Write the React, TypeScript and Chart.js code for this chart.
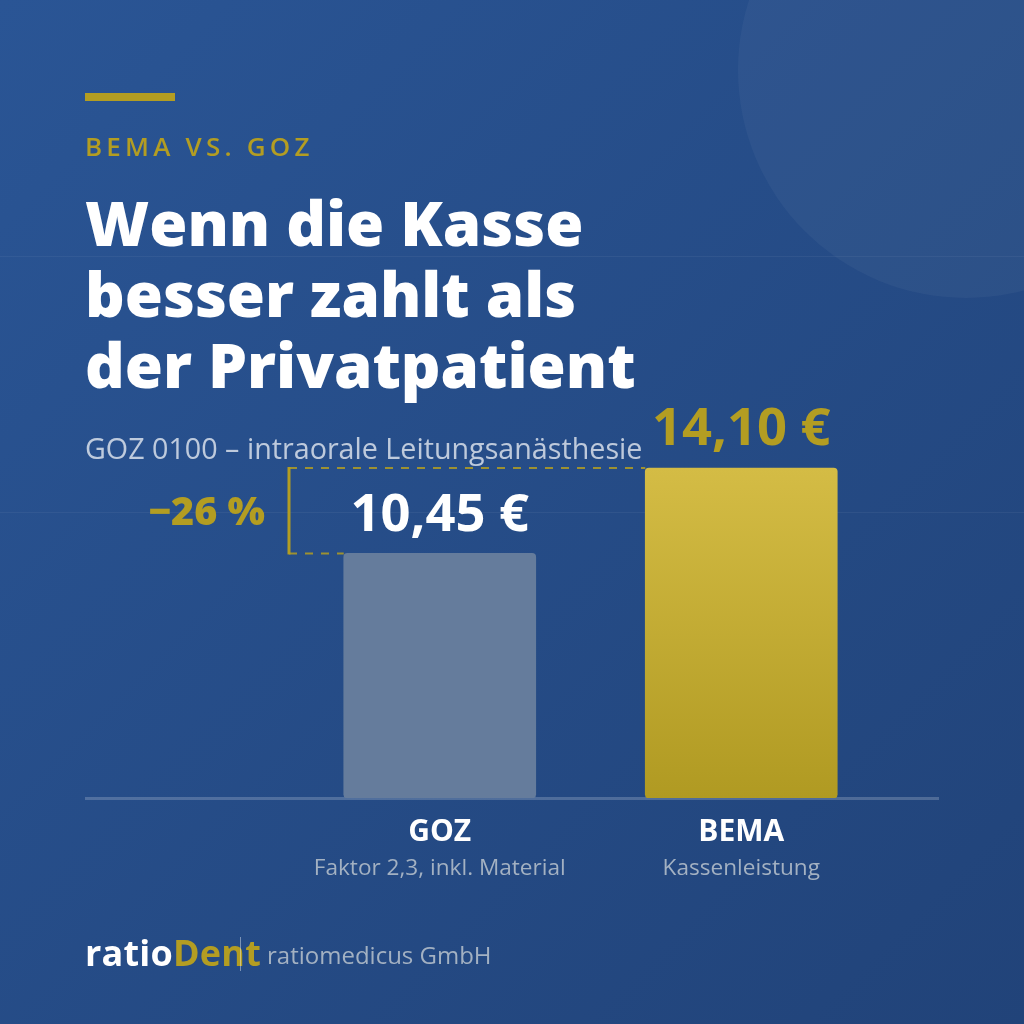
import { useEffect, useRef } from 'react'
import { Chart, registerables } from 'chart.js'

Chart.register(...registerables)

const categories = ['GOZ', 'BEMA']
const subLabels = ['Faktor 2,3, inkl. Material', 'Kassenleistung']
const prices = [10.45, 14.1]
const priceLabels = ['10,45 €', '14,10 €']
const gapLabel = '−26 %'

const GOLD = '#b39d22'
const MUTED = '#a3b1c2'
const FONT = '"Open Sans", sans-serif'

// bars, labels and the bracket all hang off the scales
const annotations = {
  id: 'annotations',
  beforeDatasetsDraw(chart) {
    const { ctx, chartArea } = chart
    ctx.save()
    ctx.fillStyle = 'rgba(255,255,255,0.2)'
    ctx.fillRect(85, chartArea.bottom - 1, 854, 3)
    ctx.restore()
  },
  afterDatasetsDraw(chart) {
    const { ctx, chartArea, scales } = chart
    const bars = chart.getDatasetMeta(0).data
    const yLow = scales.y.getPixelForValue(prices[0])
    const yHigh = scales.y.getPixelForValue(prices[1])
    const left = chartArea.left
    const lowEdge = bars[0].x - bars[0].width / 2
    const highEdge = bars[1].x - bars[1].width / 2

    ctx.save()
    ctx.strokeStyle = GOLD
    ctx.lineWidth = 2
    ctx.globalAlpha = 0.85
    ctx.setLineDash([8, 8])
    ctx.beginPath()
    ctx.moveTo(left, yHigh)
    ctx.lineTo(highEdge, yHigh)
    ctx.moveTo(left, yLow)
    ctx.lineTo(lowEdge, yLow)
    ctx.stroke()
    ctx.globalAlpha = 1
    ctx.setLineDash([])
    ctx.lineWidth = 3
    ctx.beginPath()
    ctx.moveTo(left, yHigh - 1)
    ctx.lineTo(left, yLow + 1)
    ctx.stroke()

    ctx.textAlign = 'center'
    ctx.textBaseline = 'alphabetic'
    ctx.font = `700 52.5px ${FONT}`
    ctx.fillStyle = '#ffffff'
    ctx.fillText(priceLabels[0], bars[0].x, yLow - 22)
    ctx.fillStyle = GOLD
    ctx.fillText(priceLabels[1], bars[1].x, yHigh - 23)

    ctx.textAlign = 'right'
    ctx.font = `800 39.5px ${FONT}`
    ctx.fillText(gapLabel, left - 24, (yLow + yHigh) / 2 + 14)

    ctx.textAlign = 'center'
    ctx.font = `400 22.6px ${FONT}`
    ctx.fillStyle = MUTED
    subLabels.forEach((label, i) => {
      ctx.fillText(label, bars[i].x, chartArea.bottom + 77)
    })
    ctx.restore()
  },
}

export default function App() {
  const ref = useRef(null)

  useEffect(() => {
    const chart = new Chart(ref.current, {
      type: 'bar',
      data: {
        labels: categories,
        datasets: [
          {
            data: prices,
            barThickness: 192,
            borderRadius: 4,
            borderSkipped: false,
            backgroundColor: (c) => {
              if (c.dataIndex === 0) return '#657c9c'
              const { ctx, scales } = c.chart
              if (!scales.y) return GOLD
              const g = ctx.createLinearGradient(0, scales.y.getPixelForValue(prices[1]), 0, scales.y.getPixelForValue(0))
              g.addColorStop(0, '#d4bc45')
              g.addColorStop(1, '#b09a22')
              return g
            },
          },
        ],
      },
      options: {
        responsive: false,
        animation: false,
        layout: { padding: { left: 289, right: 132, top: 0, bottom: 0 } },
        plugins: { legend: { display: false }, tooltip: { enabled: false } },
        scales: {
          x: {
            grid: { display: false },
            border: { display: false },
            afterFit: (scale) => {
              scale.height = 226
            },
            ticks: {
              color: '#ffffff',
              padding: 8,
              maxRotation: 0,
              font: { family: '"Open Sans", sans-serif', size: 30, weight: '700' },
            },
          },
          y: {
            display: false,
            min: 0,
            max: 34.1,
          },
        },
      },
      plugins: [annotations],
    })
    return () => chart.destroy()
  }, [])

  return (
    <div
      style={{
        position: 'absolute',
        left: 0,
        top: 0,
        width: 1024,
        height: 1024,
        overflow: 'hidden',
        fontFamily: FONT,
        background: 'linear-gradient(135deg, #2a5595 0%, #214379 100%)',
      }}
    >
      <div style={{ position: 'absolute', left: 738, top: -158, width: 456, height: 456, borderRadius: '50%', background: 'rgba(255,255,255,0.04)' }} />
      <div style={{ position: 'absolute', left: 0, top: 256, width: 1024, height: 1, background: 'rgba(255,255,255,0.05)' }} />
      <div style={{ position: 'absolute', left: 0, top: 512, width: 1024, height: 1, background: 'rgba(255,255,255,0.05)' }} />
      <canvas ref={ref} width={1024} height={1024} style={{ position: 'absolute', left: 0, top: 0, display: 'block' }} />
      <div style={{ position: 'absolute', left: 85, top: 93, width: 90, height: 8, background: GOLD }} />
      <div style={{ position: 'absolute', left: 85, top: 128, fontSize: 26, lineHeight: '36px', letterSpacing: 4.2, fontWeight: 600, color: GOLD }}>BEMA VS. GOZ</div>
      <div style={{ position: 'absolute', left: 85, top: 187, fontSize: 61.8, lineHeight: '71px', fontWeight: 800, color: '#ffffff', whiteSpace: 'nowrap' }}>
        Wenn die Kasse<br />besser zahlt als<br />der Privatpatient
      </div>
      <div style={{ position: 'absolute', left: 85, top: 430, fontSize: 28.7, lineHeight: '36px', color: 'rgba(255,255,255,0.7)', whiteSpace: 'nowrap' }}>GOZ 0100 – intraorale Leitungsanästhesie</div>
      <div style={{ position: 'absolute', left: 85, top: 931, fontSize: 36, lineHeight: '44px', fontWeight: 700, letterSpacing: 0.2, color: '#ffffff', whiteSpace: 'nowrap' }}>
        ratio<span style={{ color: GOLD }}>Dent</span>
      </div>
      <div style={{ position: 'absolute', left: 240, top: 937, width: 1, height: 34, background: 'rgba(255,255,255,0.4)' }} />
      <div style={{ position: 'absolute', left: 267, top: 938, fontSize: 24, lineHeight: '34px', color: MUTED, whiteSpace: 'nowrap' }}>ratiomedicus GmbH</div>
    </div>
  )
}
